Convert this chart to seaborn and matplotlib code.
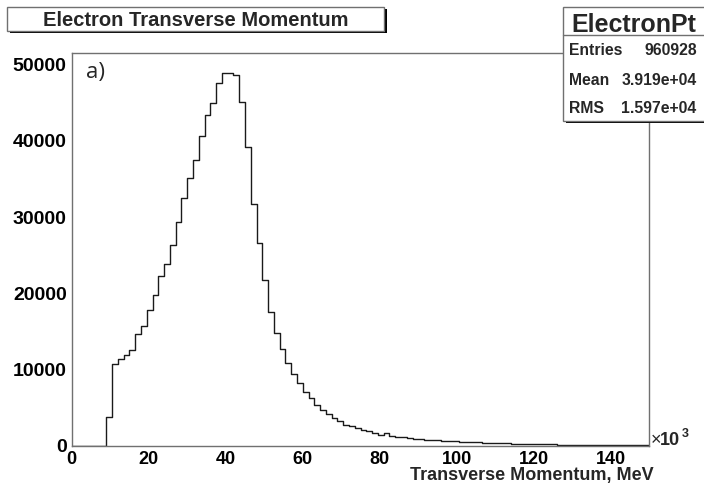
import numpy as np
import pandas as pd
import matplotlib
matplotlib.use('Agg')
import matplotlib.pyplot as plt
from matplotlib.patches import Rectangle
from matplotlib.lines import Line2D
from matplotlib.ticker import MultipleLocator
import seaborn as sns

# histogram: 100 bins of 1.5 (x10^3 MeV) between 0 and 150
NBINS = 100
XMIN, XMAX = 0, 150

binCounts = [
    0, 0, 0, 0, 0, 0, 3800, 10750, 11350, 11850,
    12600, 14600, 15650, 17750, 19750, 22250, 23900, 26400, 29400, 32500,
    35100, 37500, 40650, 43350, 44950, 47650, 48950, 48900, 48600, 45050,
    39250, 31700, 26550, 21700, 17550, 14780, 12720, 10830, 9430, 8250,
    7020, 6230, 5400, 4690, 4170, 3640, 3290, 2720, 2540, 2330,
    2110, 1890, 1670, 1450, 1620, 1300, 1180, 1080, 990, 920,
    860, 800, 750, 700, 650, 610, 570, 530, 490, 460,
    430, 400, 370, 345, 320, 300, 280, 260, 240, 225,
    210, 195, 180, 168, 156, 145, 135, 126, 118, 110,
    102, 95, 88, 82, 76, 71, 66, 61, 57, 53,
]

histTitle = 'Electron Transverse Momentum'
histName = 'ElectronPt'
statsLabels = ['Entries', 'Mean', 'RMS']
statsValues = ['960928', '3.919e+04', '1.597e+04']
xLabel = 'Transverse Momentum, MeV'
xTicks = [0, 20, 40, 60, 80, 100, 120, 140]
yTicks = [0, 10000, 20000, 30000, 40000, 50000]

binEdges = np.linspace(XMIN, XMAX, NBINS + 1)
binCenters = 0.5 * (binEdges[:-1] + binEdges[1:])
histData = pd.DataFrame({'pt': binCenters, 'count': binCounts})

sns.set_theme(style='white')
plt.rcParams['font.family'] = ['Liberation Sans', 'DejaVu Sans']
plt.rcParams['font.weight'] = 'bold'

W, H = 704, 486
fig = plt.figure(figsize=(W / 100, H / 100), dpi=100)
fig.patch.set_facecolor('white')


def FigBox(x0, y0, x1, y1):
    # pixel box (top-left origin) -> figure fraction rect
    return (x0 / W, 1 - y1 / H), (x1 - x0) / W, (y1 - y0) / H


def FigXY(x, y):
    return x / W, 1 - y / H


axLeft, axRight, axTop, axBottom = 71.7, 649.5, 53.3, 445.7
axW, axH = axRight - axLeft, axBottom - axTop
ax = fig.add_axes([axLeft / W, 1 - axBottom / H, axW / W, axH / H])

sns.histplot(data=histData, x='pt', weights='count', binwidth=(XMAX - XMIN) / NBINS,
             binrange=(XMIN, XMAX), element='step', fill=False,
             color='#1a1a1a', linewidth=1.0, ax=ax)

ax.set_xlim(XMIN, XMAX)
ax.set_ylim(0, 51500)
ax.set_xticks(xTicks)
ax.set_yticks(yTicks)
ax.xaxis.set_minor_locator(MultipleLocator(5))
ax.yaxis.set_minor_locator(MultipleLocator(2000))
ax.set_ylabel('')
ax.set_xlabel(xLabel, fontsize=13, fontweight='bold', ha='right', va='baseline')
ax.xaxis.set_label_coords((654 - axLeft) / axW, (axBottom - 480) / axH)

for spine in ax.spines.values():
    spine.set_color('#707070')
    spine.set_linewidth(1.0)

ax.tick_params(axis='both', which='both', direction='in', color='#707070', width=1.0,
               labelcolor='black', top=False, right=False)
ax.tick_params(axis='y', which='major', length=11, pad=3.6, labelsize=14)
ax.tick_params(axis='y', which='minor', length=6.5)
ax.tick_params(axis='x', which='major', length=8.4, pad=3.5, labelsize=13)
ax.tick_params(axis='x', which='minor', length=4.1)
ax.grid(False)

fig.text(*FigXY(86, 78), 'a)', fontsize=16, fontweight='normal',
         family=['Open Sans', 'DejaVu Sans'], ha='left', va='baseline')

# x10^3 multiplier
fig.text(*FigXY(651, 445), '\u00d7', fontsize=13, fontweight='normal', ha='left', va='baseline')
fig.text(*FigXY(660, 445), '10', fontsize=13, ha='left', va='baseline')
fig.text(*FigXY(681.7, 436.7), '3', fontsize=9, ha='left', va='baseline')

# title box with shadow
xy, w, h = FigBox(9.5, 9.5, 386.5, 33.5)
fig.add_artist(Rectangle(xy, w, h, transform=fig.transFigure, facecolor='black', edgecolor='none', zorder=5))
xy, w, h = FigBox(7.3, 7.3, 384, 31)
fig.add_artist(Rectangle(xy, w, h, transform=fig.transFigure, facecolor='white', edgecolor='#707070',
                         linewidth=1.0, zorder=6))
fig.text(*FigXY(195.5, 26.5), histTitle, fontsize=14.5, ha='center', va='baseline', zorder=7)

# stats box
xy, w, h = FigBox(565.7, 10.3, 710, 123.5)
fig.add_artist(Rectangle(xy, w, h, transform=fig.transFigure, facecolor='black', edgecolor='none', zorder=5))
xy, w, h = FigBox(562.7, 7.3, 710, 120.7)
fig.add_artist(Rectangle(xy, w, h, transform=fig.transFigure, facecolor='white', edgecolor='#707070',
                         linewidth=1.0, zorder=6))
fig.add_artist(Line2D([562.7 / W, 1], [1 - 35 / H, 1 - 35 / H], transform=fig.transFigure,
                      color='#707070', linewidth=1.0, zorder=7))
fig.text(*FigXY(634.2, 31.7), histName, fontsize=18, ha='center', va='baseline', zorder=7)
rowBaselines = [55, 85, 113.3]
for label, value, yb in zip(statsLabels, statsValues, rowBaselines):
    fig.text(*FigXY(569, yb), label, fontsize=11.3, ha='left', va='baseline', zorder=7)
    fig.text(*FigXY(696.7, yb), value, fontsize=11.3, ha='right', va='baseline', zorder=7)

fig.savefig('out.png', dpi=100)
